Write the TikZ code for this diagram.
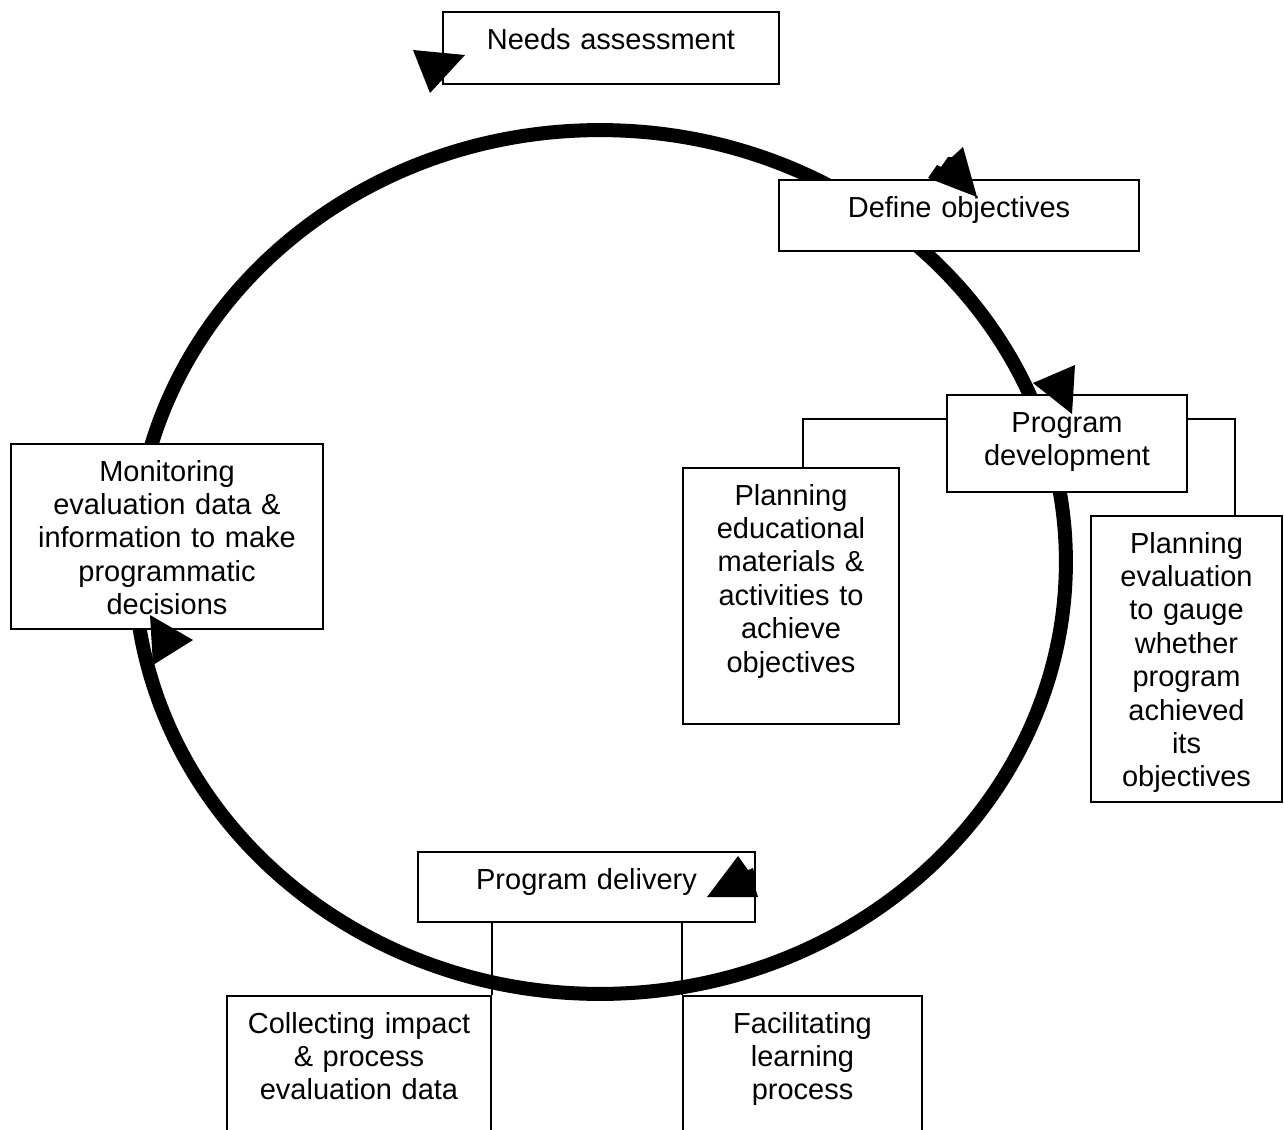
\documentclass[tikz,border=0pt]{standalone}
\usepackage{fontspec}
\setmainfont{Liberation Sans}
\usepackage{tikz}

\begin{document}
\begin{tikzpicture}[x=0.02cm, y=-0.02cm, line width=0.045cm,
      every node/.append style={font=\fontsize{16.5}{19}\selectfont},
      box/.style={draw, fill=white, inner sep=0pt, align=center, anchor=north, text height=0.74cm}]
    \tikzstyle{arrowtri} = [fill=black, draw=none]
    \clip (0,0) rectangle (1284,1129);
    % the cycle
    \draw[line width=0.28cm] (600,562) ellipse [x radius=9.32cm, y radius=8.64cm];
    % stages
    \node (needs) [box, text width=6.72cm, text depth=0.70cm] at (611,11) {Needs assessment};
    \node (define) [box, text width=7.2cm, text depth=0.68cm] at (959,179) {Define objectives};
    \node (progdev) [box, text width=4.8cm, text depth=1.2cm] at (1067,394) {Program\\development};
    \node (planedu) [box, text width=4.32cm, text depth=4.38cm] at (791,467)
      {Planning\\educational\\materials \&\\activities to\\achieve\\objectives};
    \node (planeval) [box, text width=3.82cm, text depth=4.98cm] at (1186.5,515)
      {Planning\\evaluation\\to gauge\\whether\\program\\achieved\\its\\objectives};
    \node (monitor) [box, text width=6.24cm, text depth=2.96cm] at (167,443)
      {Monitoring\\evaluation data \&\\information to make\\programmatic\\decisions};
    \node (delivery) [box, text width=6.74cm, text depth=0.66cm] at (586.5,851) {Program delivery};
    \node (collect) [box, text width=5.28cm, text depth=2.36cm] at (359,995)
      {Collecting impact\\\& process\\evaluation data};
    \node (facil) [box, text width=4.78cm, text depth=2.36cm] at (802.5,995)
      {Facilitating\\learning\\process};
    % links
    \draw ([yshift=-0.5cm]progdev.north west) -| ([xshift=0.24cm]planedu.north);
    \draw ([yshift=-0.5cm]progdev.north east) -| ([xshift=0.97cm]planeval.north);
    \draw (delivery.south -| collect.north east) -- (collect.north east);
    \draw (delivery.south -| facil.north west) -- (facil.north west);
    % arrow heads on the cycle
    \fill[arrowtri] (413,50) -- (465,55) -- (430,93) -- cycle;
    \fill[arrowtri] (928,178) -- (937,165) -- (941,167) -- (948,157) -- (952,157) -- (963,147) -- (977,197) -- cycle;
    \fill[arrowtri] (1033,383) -- (1075,365) -- (1072,414) -- cycle;
    \fill[arrowtri] (707,897) -- (738,856) -- (748,870) -- (753,868) -- (756,880) -- (754,884) -- (758,897) -- cycle;
    \fill[arrowtri] (150,615) -- (193,640) -- (153,665) -- cycle;
\end{tikzpicture}
\end{document}
